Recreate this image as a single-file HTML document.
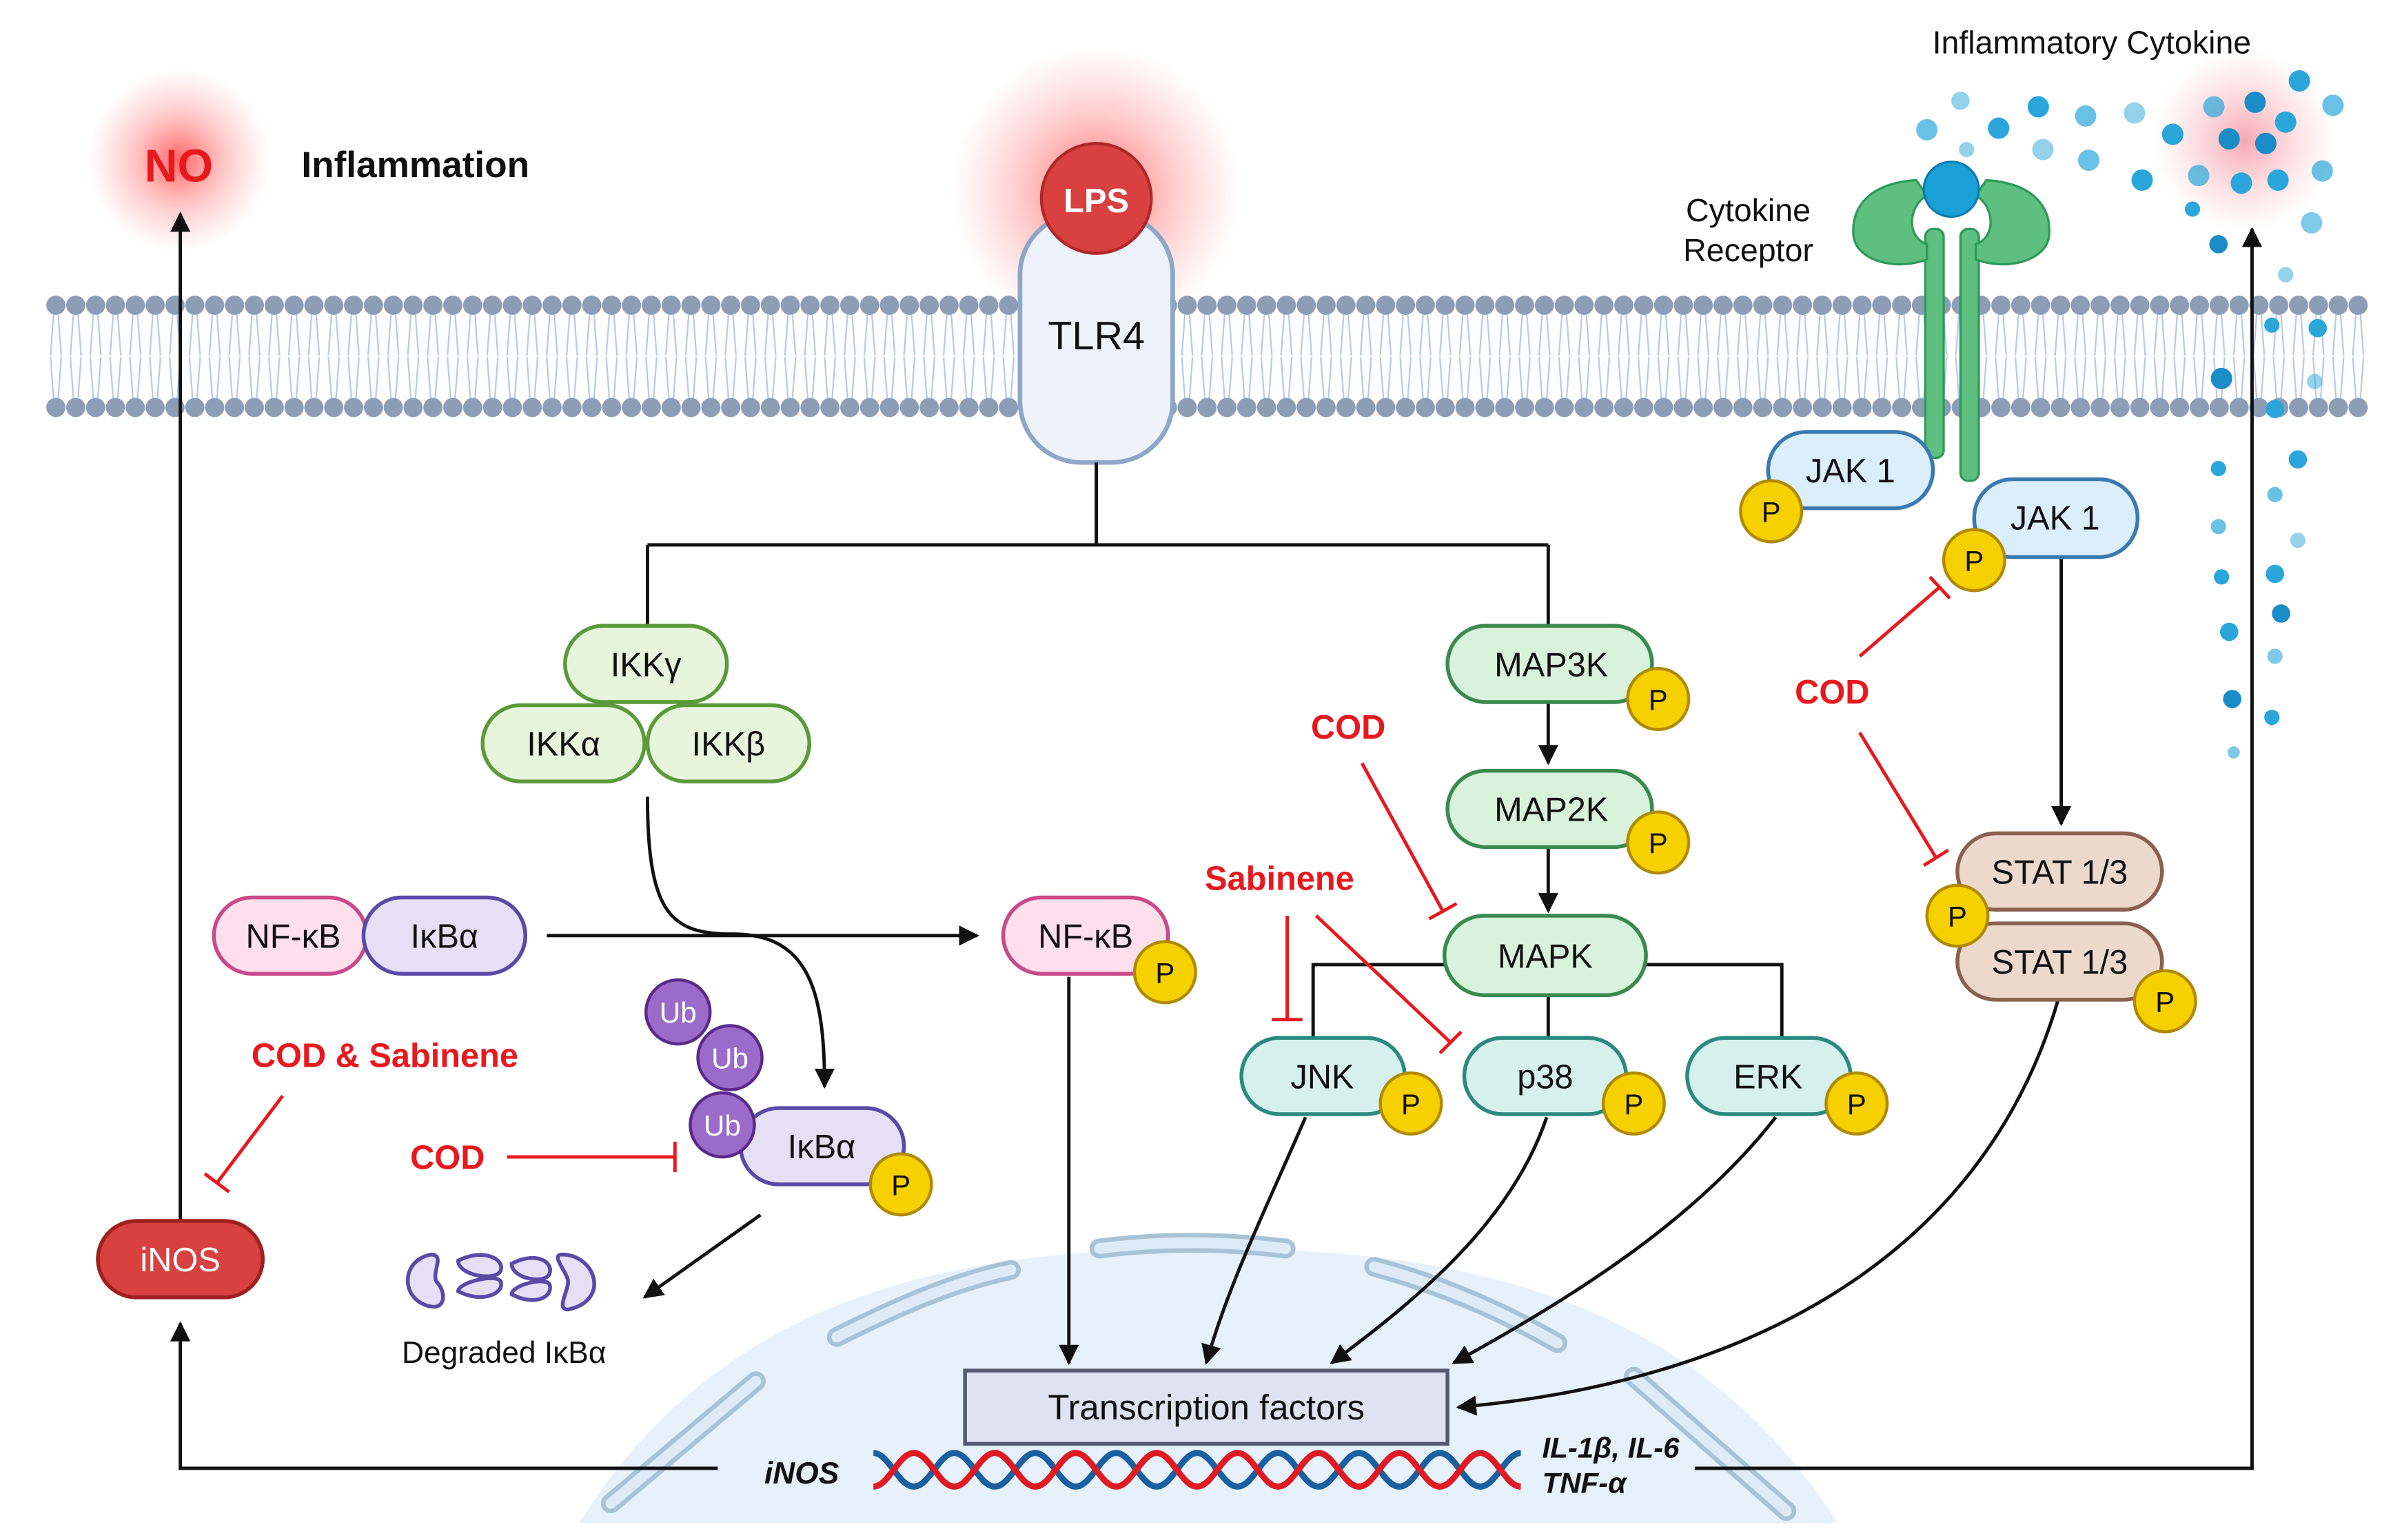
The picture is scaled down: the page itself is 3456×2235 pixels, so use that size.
<!DOCTYPE html>
<html><head><meta charset="utf-8"><style>
html,body{margin:0;padding:0;background:#fff;overflow:hidden;width:3456px;height:2235px;}
svg{display:block;}
text{font-family:"Liberation Sans",sans-serif;}
</style></head><body>
<svg width="3456" height="2235" viewBox="0 0 1560 1009" xmlns="http://www.w3.org/2000/svg">
<defs>
<radialGradient id="glow"><stop offset="0" stop-color="#ff3030" stop-opacity="0.75"/><stop offset="0.5" stop-color="#ff6060" stop-opacity="0.35"/><stop offset="1" stop-color="#ff8080" stop-opacity="0"/></radialGradient>
<radialGradient id="glow2"><stop offset="0" stop-color="#f07080" stop-opacity="0.6"/><stop offset="1" stop-color="#f8a0a8" stop-opacity="0"/></radialGradient>
<pattern id="tails" x="30" y="0" width="13" height="1009" patternUnits="userSpaceOnUse">
<circle cx="6.5" cy="200" r="6.3" fill="#8c9db5"/>
<circle cx="6.5" cy="267" r="6.3" fill="#8c9db5"/>
<path d="M5,206 L3,233 M8,206 L10,233 M5,261 L3,234 M8,261 L10,234" stroke="#b8c8e6" stroke-width="1"/>
</pattern>
<marker id="ar" viewBox="0 0 10 10" refX="9" refY="5" markerWidth="6" markerHeight="6" orient="auto-start-reverse"><path d="M0,0 L10,5 L0,10 z" fill="#111"/></marker>
<clipPath id="nucclip"><rect x="0" y="0" width="1560" height="998"/></clipPath>
</defs>

<circle cx="117" cy="105" r="60" fill="url(#glow)"/>
<circle cx="718" cy="125" r="95" fill="url(#glow)"/>
<circle cx="1470" cy="92" r="60" fill="url(#glow2)"/>

<g clip-path="url(#nucclip)">
<path d="M378,1000 C470,850 620,818 790,818 C960,818 1110,850 1205,1000 Z" fill="#e6f1fb"/>
<g fill="none" stroke="#a9c3d6" stroke-width="13" stroke-linecap="round"><path d="M400,985 L495,905" /><path d="M548,876 C590,855 625,840 662,832"/><path d="M720,818 C760,813 800,813 842,818"/><path d="M900,830 C945,842 985,860 1020,880"/><path d="M1070,902 L1170,990"/></g>
<g fill="none" stroke="#dcebf7" stroke-width="7" stroke-linecap="round"><path d="M400,985 L495,905" /><path d="M548,876 C590,855 625,840 662,832"/><path d="M720,818 C760,813 800,813 842,818"/><path d="M900,830 C945,842 985,860 1020,880"/><path d="M1070,902 L1170,990"/></g>
</g>

<rect x="30" y="190" width="1521" height="85" fill="url(#tails)"/>

<rect x="668" y="140" width="100" height="163" rx="40" fill="#eef3fb" stroke="#8ea6c8" stroke-width="3"/>
<text x="718" y="229" font-size="26" text-anchor="middle" fill="#111">TLR4</text>
<circle cx="718" cy="130" r="36" fill="#d94040" stroke="#b02828" stroke-width="2"/>
<text x="718" y="139" font-size="22" font-weight="bold" text-anchor="middle" fill="#fff">LPS</text>

<g fill="#5fbf80" stroke="#2e9a58" stroke-width="1.5">
<rect x="1261" y="150" width="12" height="150" rx="5"/>
<rect x="1284" y="150" width="12" height="165" rx="5"/>
<path d="M1255,118 C1225,120 1212,135 1214,155 C1216,170 1240,178 1262,170 L1262,160 C1248,155 1250,135 1262,128 Z"/>
<path d="M1301,118 C1331,120 1344,135 1342,155 C1340,170 1316,178 1294,170 L1294,160 C1308,155 1306,135 1294,128 Z"/>
</g>
<circle cx="1278" cy="124" r="18" fill="#1a9fd6" stroke="#0e7cb0" stroke-width="1.5"/>
<text x="1145" y="145" font-size="21" text-anchor="middle" fill="#111">Cytokine</text>
<text x="1145" y="171" font-size="21" text-anchor="middle" fill="#111">Receptor</text>
<text x="1370" y="35" font-size="21" text-anchor="middle" fill="#111">Inflammatory Cytokine</text>

<g fill="#2aa6da">
<circle cx="1262" cy="85" r="7" opacity=".7"/><circle cx="1284" cy="66" r="6" opacity=".5"/><circle cx="1288" cy="98" r="5" opacity=".5"/>
<circle cx="1309" cy="84" r="7"/><circle cx="1335" cy="70" r="7"/><circle cx="1338" cy="98" r="7" opacity=".5"/>
<circle cx="1366" cy="76" r="7" opacity=".7"/><circle cx="1368" cy="105" r="7" opacity=".7"/><circle cx="1398" cy="74" r="7" opacity=".5"/>
<circle cx="1403" cy="118" r="7"/><circle cx="1423" cy="88" r="7"/><circle cx="1450" cy="70" r="7" opacity=".7"/>
<circle cx="1477" cy="67" r="7" fill="#1a8cc8"/><circle cx="1460" cy="91" r="7" fill="#1a8cc8"/><circle cx="1484" cy="94" r="7" fill="#1a8cc8"/>
<circle cx="1497" cy="80" r="7"/><circle cx="1506" cy="53" r="7"/><circle cx="1528" cy="69" r="7" opacity=".7"/>
<circle cx="1440" cy="115" r="7" opacity=".7"/><circle cx="1468" cy="120" r="7"/><circle cx="1492" cy="118" r="7"/>
<circle cx="1521" cy="112" r="7" opacity=".7"/><circle cx="1436" cy="137" r="5"/><circle cx="1514" cy="146" r="7" opacity=".6"/>
<circle cx="1453" cy="160" r="6" fill="#1a8cc8"/><circle cx="1497" cy="180" r="5" opacity=".5"/>
<circle cx="1518" cy="215" r="6"/><circle cx="1488" cy="213" r="5"/><circle cx="1455" cy="248" r="7" fill="#1a8cc8"/>
<circle cx="1516" cy="250" r="5" opacity=".5"/><circle cx="1490" cy="268" r="6"/><circle cx="1505" cy="301" r="6"/>
<circle cx="1453" cy="307" r="5"/><circle cx="1490" cy="324" r="5" opacity=".7"/><circle cx="1453" cy="345" r="5" opacity=".7"/>
<circle cx="1505" cy="354" r="5" opacity=".5"/><circle cx="1455" cy="378" r="5"/><circle cx="1490" cy="376" r="6"/>
<circle cx="1494" cy="402" r="6" fill="#1a8cc8"/><circle cx="1460" cy="414" r="6"/><circle cx="1490" cy="430" r="5" opacity=".6"/>
<circle cx="1462" cy="458" r="6" fill="#1a8cc8"/><circle cx="1488" cy="470" r="5"/><circle cx="1463" cy="493" r="4" opacity=".6"/>
</g>

<g fill="none" stroke="#111" stroke-width="2.2">
<path d="M718,303 V357 M424,357 H1014 M424,357 V410 M1014,357 V410"/>
<path d="M424,522 C424,600 440,612 480,612 C530,612 540,650 540,712" marker-end="url(#ar)"/>
<path d="M358,613 H640" marker-end="url(#ar)"/>
<path d="M700,640 V893" marker-end="url(#ar)"/>
<path d="M498,796 L422,850" marker-end="url(#ar)"/>
<path d="M118,800 V140" marker-end="url(#ar)"/>
<path d="M470,962 H118 V867" marker-end="url(#ar)"/>
<path d="M1110,962 H1475 V150" marker-end="url(#ar)"/>
<path d="M1014,460 V500" marker-end="url(#ar)"/>
<path d="M1014,555 V597" marker-end="url(#ar)"/>
<path d="M946,632 H860 V680 M1014,652 V680 M1078,632 H1167 V680"/>
<path d="M855,732 C830,790 805,840 790,893" marker-end="url(#ar)"/>
<path d="M1013,732 C990,800 930,850 872,893" marker-end="url(#ar)"/>
<path d="M1163,732 C1110,800 1030,850 952,893" marker-end="url(#ar)"/>
<path d="M1348,655 C1300,820 1150,905 955,922" marker-end="url(#ar)"/>
<path d="M1350,365 V540" marker-end="url(#ar)"/>
</g>

<g fill="none" stroke="#e8191e" stroke-width="2.2">
<path d="M332,758 H442 M442,748 V768"/>
<path d="M185,718 L142,775 M134,769 L150,781"/>
<path d="M892,500 L945,597 M936,602 L954,592"/>
<path d="M843,600 V668 M833,668 H853"/>
<path d="M862,600 L950,683 M943,690 L957,676"/>
<path d="M1218,430 L1270,385 M1264,378 L1277,392"/>
<path d="M1218,480 L1268,562 M1260,567 L1276,557"/>
</g>

<g stroke-width="2.5" font-size="22">
<rect x="370" y="410" width="106" height="50" rx="25" fill="#e8f5dd" stroke="#5b9a3a"/>
<rect x="316" y="462" width="106" height="50" rx="25" fill="#e8f5dd" stroke="#5b9a3a"/>
<rect x="424" y="462" width="106" height="50" rx="25" fill="#e8f5dd" stroke="#5b9a3a"/>
<rect x="140" y="588" width="100" height="50" rx="25" fill="#fde0ec" stroke="#c84a8a"/>
<rect x="238" y="588" width="106" height="50" rx="25" fill="#e6e0f7" stroke="#5a4aa8"/>
<rect x="657" y="588" width="108" height="50" rx="25" fill="#fde0ec" stroke="#c84a8a"/>
<rect x="485" y="726" width="107" height="50" rx="25" fill="#e6e0f7" stroke="#5a4aa8"/>
<rect x="64" y="800" width="108" height="50" rx="25" fill="#d94040" stroke="#a02020"/>
<rect x="948" y="410" width="134" height="50" rx="25" fill="#d9f2dc" stroke="#3a8a50"/>
<rect x="948" y="505" width="134" height="50" rx="25" fill="#d9f2dc" stroke="#3a8a50"/>
<rect x="946" y="600" width="132" height="52" rx="26" fill="#d9f2dc" stroke="#3a8a50"/>
<rect x="813" y="680" width="107" height="50" rx="25" fill="#d6f0ee" stroke="#2a8a80"/>
<rect x="959" y="680" width="106" height="50" rx="25" fill="#d6f0ee" stroke="#2a8a80"/>
<rect x="1105" y="680" width="107" height="50" rx="25" fill="#d6f0ee" stroke="#2a8a80"/>
<rect x="1158" y="283" width="108" height="50" rx="25" fill="#dbeefb" stroke="#3a7ab0"/>
<rect x="1293" y="314" width="107" height="51" rx="25" fill="#dbeefb" stroke="#3a7ab0"/>
<rect x="1282" y="546" width="134" height="50" rx="25" fill="#ecd9cc" stroke="#8a6050"/>
<rect x="1282" y="605" width="134" height="50" rx="25" fill="#ecd9cc" stroke="#8a6050"/>
</g>
<g fill="#9b6bc9" stroke="#5a2a8a" stroke-width="2">
<circle cx="444" cy="663" r="21"/><circle cx="478" cy="693" r="21"/><circle cx="473" cy="737" r="21"/>
</g>
<g font-size="19" fill="#fff" text-anchor="middle"><text x="444" y="670">Ub</text><text x="478" y="700">Ub</text><text x="473" y="744">Ub</text></g>

<g font-size="22" text-anchor="middle" fill="#111">
<text x="423" y="443">IKKγ</text><text x="369" y="495">IKKα</text><text x="477" y="495">IKKβ</text>
<text x="192" y="621">NF-κB</text><text x="291" y="621">IκBα</text><text x="711" y="621">NF-κB</text>
<text x="538" y="759">IκBα</text>
<text x="1016" y="443">MAP3K</text><text x="1016" y="538">MAP2K</text><text x="1012" y="634">MAPK</text>
<text x="866" y="713">JNK</text><text x="1012" y="713">p38</text><text x="1158" y="713">ERK</text>
<text x="1212" y="316">JAK 1</text><text x="1346" y="347">JAK 1</text>
<text x="1349" y="579">STAT 1/3</text><text x="1349" y="638">STAT 1/3</text>
</g>
<text x="118" y="833" font-size="22" text-anchor="middle" fill="#fff">iNOS</text>

<g fill="#f7d000" stroke="#b08a00" stroke-width="2">
<circle cx="763" cy="637" r="20"/><circle cx="590" cy="776" r="20"/><circle cx="1086" cy="458" r="20"/><circle cx="1086" cy="552" r="20"/>
<circle cx="924" cy="723" r="20"/><circle cx="1070" cy="723" r="20"/><circle cx="1216" cy="723" r="20"/>
<circle cx="1160" cy="335" r="20"/><circle cx="1293" cy="367" r="20"/><circle cx="1282" cy="600" r="20"/><circle cx="1418" cy="656" r="20"/>
</g>
<g font-size="19" text-anchor="middle" fill="#111">
<text x="763" y="644">P</text><text x="590" y="783">P</text><text x="1086" y="465">P</text><text x="1086" y="559">P</text>
<text x="924" y="730">P</text><text x="1070" y="730">P</text><text x="1216" y="730">P</text>
<text x="1160" y="342">P</text><text x="1293" y="374">P</text><text x="1282" y="607">P</text><text x="1418" y="663">P</text>
</g>

<g fill="#e6e0f7" stroke="#5a4aa8" stroke-width="2.5">
<path d="M282,822 C262,826 262,852 282,856 C292,858 292,846 286,840 C282,834 292,822 282,822 Z"/>
<path d="M300,826 C315,818 330,824 328,832 C326,840 300,836 300,826 Z M300,846 C315,854 330,848 328,840 C326,834 300,840 300,846 Z"/>
<path d="M335,828 C350,820 362,826 360,834 C358,842 335,838 335,828 Z M335,848 C350,856 362,850 360,842 C358,836 335,842 335,848 Z"/>
<path d="M368,822 C390,822 400,852 372,858 C364,858 372,846 372,840 C372,834 360,822 368,822 Z"/>
</g>
<text x="330" y="893" font-size="20" text-anchor="middle" fill="#111">Degraded IκBα</text>

<rect x="632" y="898" width="316" height="48" fill="#dde3f0" stroke="#555a70" stroke-width="2.5"/>
<text x="790" y="930" font-size="23" text-anchor="middle" fill="#111">Transcription factors</text>
<g fill="none" stroke-width="4">
<path d="M572,952 c10,0 16.5,22 26.5,22 c10,0 16.5,-22 26.5,-22 c10,0 16.5,22 26.5,22 c10,0 16.5,-22 26.5,-22 c10,0 16.5,22 26.5,22 c10,0 16.5,-22 26.5,-22 c10,0 16.5,22 26.5,22 c10,0 16.5,-22 26.5,-22 c10,0 16.5,22 26.5,22 c10,0 16.5,-22 26.5,-22 c10,0 16.5,22 26.5,22 c10,0 16.5,-22 26.5,-22 c10,0 16.5,22 26.5,22 c10,0 16.5,-22 26.5,-22 c10,0 16.5,22 26.5,22 c10,0 16.5,-22 26.5,-22" stroke="#1a5fa0"/>
<path d="M572,974 c10,0 16.5,-22 26.5,-22 c10,0 16.5,22 26.5,22 c10,0 16.5,-22 26.5,-22 c10,0 16.5,22 26.5,22 c10,0 16.5,-22 26.5,-22 c10,0 16.5,22 26.5,22 c10,0 16.5,-22 26.5,-22 c10,0 16.5,22 26.5,22 c10,0 16.5,-22 26.5,-22 c10,0 16.5,22 26.5,22 c10,0 16.5,-22 26.5,-22 c10,0 16.5,22 26.5,22 c10,0 16.5,-22 26.5,-22 c10,0 16.5,22 26.5,22 c10,0 16.5,-22 26.5,-22 c10,0 16.5,22 26.5,22" stroke="#e01a22"/>
</g>
<text x="525" y="972" font-size="20" font-style="italic" font-weight="bold" text-anchor="middle" fill="#111">iNOS</text>
<text x="1010" y="955" font-size="19" font-style="italic" font-weight="bold" fill="#111">IL-1β, IL-6</text>
<text x="1010" y="978" font-size="19" font-style="italic" font-weight="bold" fill="#111">TNF-α</text>

<text x="117" y="119" font-size="30" font-weight="bold" text-anchor="middle" fill="#e8191e">NO</text>
<text x="272" y="116" font-size="24" font-weight="bold" text-anchor="middle" fill="#111">Inflammation</text>
<g font-weight="bold" fill="#e8191e" text-anchor="middle" font-size="22">
<text x="252" y="699">COD &amp; Sabinene</text>
<text x="293" y="766">COD</text>
<text x="883" y="484">COD</text>
<text x="838" y="583">Sabinene</text>
<text x="1200" y="461">COD</text>
</g>
</svg>
</body></html>
